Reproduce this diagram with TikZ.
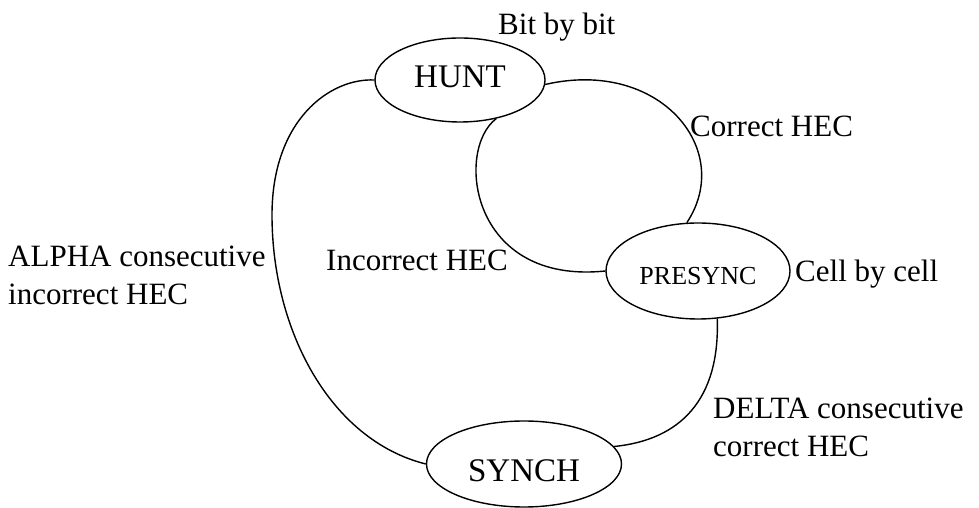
\documentclass[tikz,border=0pt]{standalone}
\usepackage{fontspec}
\setmainfont{Liberation Serif}
\usetikzlibrary{shapes.geometric}

\tikzset{
  state/.style={draw, ellipse, inner sep=0pt, line width=1.4pt,
    font=\fontsize{33}{38}\selectfont},
  lbl/.style={inner sep=0pt, align=left, font=\fontsize{31}{38}\selectfont},
  link/.style={line width=1.4pt}
}

\begin{document}
\begin{tikzpicture}[x=1pt,y=1pt]

    % Frame of the page
    \useasboundingbox (0,0) rectangle (979,508);

    % States
    \node[state, minimum width=170, minimum height=84, text height=21pt, text depth=5pt] (hunt) at (460,428) {HUNT};
    \node[state, minimum width=184, minimum height=96, text height=27pt, text depth=0pt,
          font=\fontsize{26}{30}\selectfont] (presync) at (698,237) {PRESYNC};
    \node[state, minimum width=195, minimum height=86, text height=35pt, text depth=0pt] (synch) at (524,44) {SYNCH};

    % Transitions
    \draw[link] (hunt.-3) .. controls (660,450) and (735,358) .. (presync.103);
    \draw[link] (hunt.-47) .. controls (455,358) and (470,223) .. (presync.west);
    \draw[link] (presync.-68) .. controls (720,108) and (680,68) .. (synch.11);
    \draw[link] (hunt.west) .. controls (330,430) and (272,388) .. (272,293)
                            .. controls (272,178) and (330,68) .. (synch.west);

    % Labels (multi-line ones sit on the base of their last line)
    \node[lbl, anchor=base west] (bitlbl) at (498,473) {Bit by bit};
    \node[lbl, anchor=base west] (corrlbl) at (690,371) {Correct HEC};
    \node[lbl, anchor=base west] (celllbl) at (795,226) {Cell by cell};
    \node[lbl, anchor=base west] (incorrlbl) at (326,237) {Incorrect HEC};
    \node[lbl, anchor=base west] (alphalbl) at (8,203) {ALPHA consecutive\\incorrect HEC};
    \node[lbl, anchor=base west] (deltalbl) at (713,51) {DELTA consecutive\\correct HEC};

\end{tikzpicture}
\end{document}
